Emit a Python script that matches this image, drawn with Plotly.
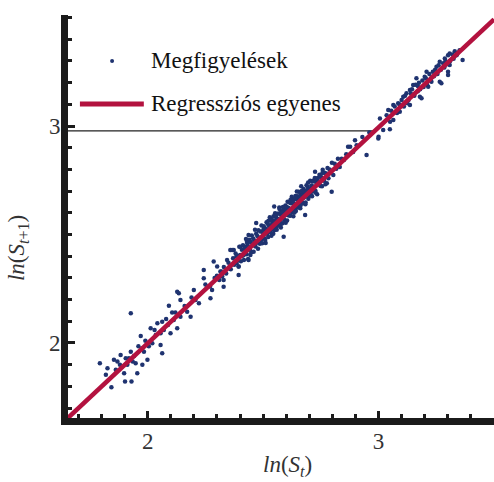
import plotly.graph_objects as go

# Observations: ln(S_t) and ln(S_{t+1}), grouped by range of ln(S_t)
low_x = [1.793, 1.819, 1.843, 1.826, 1.854, 1.862, 1.869, 1.883, 1.890, 1.898,
         1.902, 1.912, 1.919, 1.927, 1.927, 1.930, 1.941, 1.948, 1.955, 1.970,
         1.977, 1.977, 1.984, 1.999, 2.013, 2.020, 2.035, 2.042, 2.056, 2.056,
         2.063, 2.063, 2.088, 2.092, 2.099, 2.106, 2.113, 2.128, 2.135, 2.142,
         2.142, 2.171, 2.186, 2.207, 2.128, 2.200, 2.222, 2.243, 2.243, 2.258,
         2.272, 2.279, 1.880, 1.905, 1.935, 1.960, 1.990, 2.005, 2.030, 2.070,
         2.080, 2.120, 2.160, 2.190]
low_y = [1.906, 1.853, 1.796, 1.883, 1.922, 1.876, 1.914, 1.945, 1.891, 1.860,
         1.822, 1.899, 1.929, 2.137, 1.960, 1.822, 1.940, 1.906, 1.860, 2.032,
         1.976, 1.899, 1.960, 1.922, 2.068, 1.999, 2.037, 2.091, 2.045, 1.991,
         2.098, 1.953, 2.083, 2.171, 2.045, 2.140, 2.106, 2.068, 2.229, 2.198,
         2.121, 2.144, 2.121, 2.198, 2.236, 2.244, 2.183, 2.336, 2.298, 2.259,
         2.206, 2.244, 1.900, 1.930, 1.915, 1.985, 2.010, 1.985, 2.060, 2.060,
         2.110, 2.140, 2.170, 2.210]

mid_x = [2.286, 2.301, 2.315, 2.323, 2.329, 2.344, 2.358, 2.373, 2.394, 2.394,
         2.402, 2.423, 2.430, 2.437, 2.459, 2.445, 2.437, 2.416, 2.329, 2.366,
         2.250, 2.270, 2.300, 2.310, 2.330, 2.340, 2.350, 2.360, 2.370, 2.375,
         2.385, 2.390, 2.290, 2.320, 2.355]
mid_y = [2.375, 2.352, 2.329, 2.306, 2.290, 2.382, 2.429, 2.429, 2.352, 2.313,
         2.444, 2.444, 2.467, 2.498, 2.459, 2.406, 2.383, 2.406, 2.259, 2.429,
         2.270, 2.260, 2.310, 2.290, 2.350, 2.320, 2.370, 2.340, 2.390, 2.360,
         2.400, 2.380, 2.300, 2.330, 2.350]

core_x = [2.381, 2.385, 2.390, 2.394, 2.397, 2.401, 2.404, 2.408, 2.411, 2.413,
          2.417, 2.420, 2.423, 2.426, 2.429, 2.432, 2.435, 2.437, 2.440, 2.443,
          2.446, 2.449, 2.451, 2.454, 2.457, 2.459, 2.462, 2.465, 2.467, 2.470,
          2.473, 2.475, 2.478, 2.480, 2.483, 2.486, 2.488, 2.491, 2.493, 2.496,
          2.498, 2.501, 2.503, 2.506, 2.508, 2.511, 2.513, 2.515, 2.518, 2.520,
          2.522, 2.525, 2.527, 2.529, 2.532, 2.534, 2.536, 2.539, 2.541, 2.543,
          2.545, 2.548, 2.550, 2.552, 2.554, 2.557, 2.559, 2.561, 2.563, 2.566,
          2.568, 2.570, 2.572, 2.575, 2.577, 2.579, 2.581, 2.584, 2.586, 2.588,
          2.590, 2.593, 2.595, 2.597, 2.599, 2.602, 2.604, 2.606, 2.608, 2.611,
          2.613, 2.615, 2.617, 2.620, 2.622, 2.624, 2.626, 2.629, 2.631, 2.633,
          2.635, 2.638, 2.640, 2.642, 2.644, 2.647, 2.649, 2.651, 2.654, 2.656,
          2.658, 2.661, 2.663, 2.665, 2.668, 2.670, 2.673, 2.675, 2.677, 2.680,
          2.683, 2.685, 2.688, 2.690, 2.693, 2.696, 2.698, 2.701, 2.704, 2.707,
          2.709, 2.712, 2.715, 2.718, 2.721, 2.724, 2.727, 2.730, 2.734, 2.737,
          2.740, 2.744, 2.747, 2.751, 2.755, 2.758, 2.762, 2.766, 2.770, 2.774,
          2.779, 2.783, 2.788, 2.793, 2.798, 2.804, 2.810, 2.817, 2.824, 2.832,
          2.840, 2.850]
core_y = [2.412, 2.367, 2.402, 2.353, 2.443, 2.405, 2.377, 2.430, 2.402, 2.451,
          2.382, 2.435, 2.421, 2.479, 2.409, 2.459, 2.387, 2.445, 2.476, 2.430,
          2.465, 2.418, 2.495, 2.449, 2.481, 2.421, 2.472, 2.522, 2.445, 2.503,
          2.462, 2.493, 2.434, 2.520, 2.485, 2.457, 2.514, 2.475, 2.541, 2.460,
          2.511, 2.494, 2.538, 2.481, 2.529, 2.461, 2.519, 2.557, 2.504, 2.549,
          2.489, 2.541, 2.524, 2.580, 2.511, 2.568, 2.494, 2.548, 2.566, 2.531,
          2.584, 2.520, 2.553, 2.598, 2.537, 2.577, 2.522, 2.573, 2.557, 2.597,
          2.544, 2.625, 2.562, 2.592, 2.532, 2.607, 2.582, 2.552, 2.627, 2.573,
          2.613, 2.567, 2.603, 2.634, 2.591, 2.621, 2.565, 2.651, 2.589, 2.622,
          2.612, 2.647, 2.587, 2.644, 2.610, 2.674, 2.603, 2.643, 2.584, 2.663,
          2.640, 2.622, 2.678, 2.608, 2.662, 2.643, 2.676, 2.624, 2.697, 2.646,
          2.667, 2.621, 2.685, 2.723, 2.650, 2.685, 2.644, 2.710, 2.671, 2.700,
          2.640, 2.692, 2.727, 2.676, 2.719, 2.665, 2.710, 2.699, 2.748, 2.685,
          2.726, 2.676, 2.744, 2.721, 2.706, 2.760, 2.701, 2.740, 2.686, 2.760,
          2.733, 2.775, 2.727, 2.765, 2.722, 2.798, 2.751, 2.785, 2.732, 2.781,
          2.807, 2.759, 2.800, 2.784, 2.831, 2.774, 2.826, 2.803, 2.849, 2.811,
          2.849, 2.844]

core2_x = [2.502, 2.509, 2.516, 2.523, 2.530, 2.537, 2.544, 2.549, 2.555, 2.560,
           2.565, 2.571, 2.576, 2.582, 2.587, 2.592, 2.598, 2.603, 2.609, 2.614,
           2.619, 2.625, 2.630, 2.636, 2.641, 2.646, 2.652, 2.657, 2.662, 2.667,
           2.672, 2.678, 2.684, 2.689, 2.695, 2.700, 2.706, 2.713, 2.719, 2.726,
           2.733, 2.741, 2.749, 2.757, 2.764, 2.725, 2.797, 2.682, 2.589, 2.776,
           2.548, 2.470]
core2_y = [2.524, 2.475, 2.524, 2.563, 2.514, 2.563, 2.503, 2.562, 2.588, 2.538,
           2.569, 2.618, 2.546, 2.600, 2.578, 2.628, 2.554, 2.627, 2.611, 2.589,
           2.660, 2.612, 2.646, 2.601, 2.670, 2.698, 2.633, 2.667, 2.634, 2.701,
           2.669, 2.699, 2.647, 2.703, 2.740, 2.679, 2.712, 2.701, 2.749, 2.694,
           2.752, 2.743, 2.724, 2.784, 2.748, 2.789, 2.697, 2.590, 2.490, 2.736,
           2.629, 2.553]

high_x = [2.868, 2.877, 2.898, 2.948, 2.905, 2.860, 2.890, 2.930, 2.960, 2.999,
          3.020, 3.049, 3.006, 3.042, 3.064, 3.085, 3.107, 3.121, 3.136, 3.136,
          3.179, 3.186, 3.164, 3.150, 3.215, 3.229, 3.200, 3.208, 3.265, 3.251,
          3.265, 3.287, 3.301, 3.301, 3.308, 3.049, 3.064, 3.092, 3.351, 3.364,
          3.308, 3.337, 3.272, 3.301, 3.000, 3.050, 3.070, 3.080, 3.100, 3.110,
          3.115, 3.130, 3.140, 3.145, 3.155, 3.160, 3.170, 3.175, 3.180, 3.190,
          3.195, 3.205, 3.210, 3.220, 3.225, 3.235, 3.240, 3.245, 3.255, 3.260,
          3.270, 3.280, 3.285, 3.290, 3.295, 3.310, 3.320, 3.325, 3.330, 3.340,
          3.035, 3.055, 3.090, 3.125, 3.170, 3.230]
high_y = [2.905, 2.905, 2.935, 2.866, 2.912, 2.870, 2.880, 2.950, 2.970, 2.943,
          2.982, 2.985, 3.035, 3.074, 3.097, 3.105, 3.135, 3.151, 3.166, 3.097,
          3.135, 3.128, 3.220, 3.189, 3.181, 3.204, 3.227, 3.250, 3.204, 3.273,
          3.296, 3.312, 3.327, 3.250, 3.281, 3.043, 3.028, 3.066, 3.350, 3.304,
          3.335, 3.327, 3.197, 3.235, 2.951, 3.020, 3.090, 3.060, 3.120, 3.090,
          3.140, 3.120, 3.150, 3.170, 3.140, 3.190, 3.160, 3.200, 3.170, 3.210,
          3.180, 3.220, 3.190, 3.240, 3.210, 3.250, 3.230, 3.260, 3.240, 3.280,
          3.260, 3.290, 3.270, 3.300, 3.285, 3.300, 3.330, 3.310, 3.345, 3.330,
          3.050, 3.070, 3.100, 3.105, 3.185, 3.225]

obs_x = low_x + mid_x + core_x + core2_x + high_x
obs_y = low_y + mid_y + core_y + core2_y + high_y

# Fitted regression line ln(S_{t+1}) = a + b * ln(S_t)
reg_intercept = 0.006
reg_slope = 0.996

# Axis extents and ticks
x_range = [1.655, 3.50]
y_range = [1.654, 3.512]
tick_vals = [2, 3]
ref_level = 2.978  # horizontal guide drawn up to the regression line

navy = "#1f3370"
crimson = "#b3123f"
axis_black = "#1b1b1b"
serif = "Liberation Serif"

reg_x = x_range
reg_y = [reg_intercept + reg_slope * v for v in reg_x]

fig = go.Figure()
fig.add_trace(go.Scatter(
    x=obs_x, y=obs_y, mode="markers",
    marker=dict(color=navy, size=4.5, line=dict(width=0)),
    name="Megfigyelések", showlegend=False, hoverinfo="skip"))
fig.add_trace(go.Scatter(
    x=reg_x, y=reg_y, mode="lines",
    line=dict(color=crimson, width=4.5),
    name="Regressziós egyenes", showlegend=False, hoverinfo="skip"))

# Thin guide at ln(S_{t+1}) = ref_level, from the axis to the fitted line
guide_end = (ref_level - reg_intercept) / reg_slope
fig.add_shape(type="line", xref="x", yref="y",
              x0=x_range[0], x1=guide_end, y0=ref_level, y1=ref_level,
              line=dict(color="#222", width=1.3), layer="below")

# Legend drawn by hand (paper coordinates)
fig.add_shape(type="circle", xref="paper", yref="paper",
              x0=0.0988, x1=0.1082, y0=0.881, y1=0.891,
              fillcolor=navy, line=dict(width=0))
fig.add_shape(type="line", xref="paper", yref="paper",
              x0=0.028, x1=0.178, y0=0.779, y1=0.779,
              line=dict(color=crimson, width=5))
fig.add_annotation(xref="paper", yref="paper", x=0.19, y=0.886,
                   text="Megfigyelések", showarrow=False,
                   xanchor="left", yanchor="middle",
                   font=dict(family=serif, size=23, color="#111"))
fig.add_annotation(xref="paper", yref="paper", x=0.19, y=0.781,
                   text="Regressziós egyenes", showarrow=False,
                   xanchor="left", yanchor="middle",
                   font=dict(family=serif, size=23, color="#111"))

# Axis titles
fig.add_annotation(xref="paper", yref="paper", x=0.516, y=-0.119,
                   text="<i>ln</i>(<i>S</i><sub><i>t</i></sub>)", showarrow=False,
                   xanchor="center", yanchor="middle",
                   font=dict(family=serif, size=23, color="#333"))
fig.add_annotation(xref="paper", yref="paper", x=-0.117, y=0.422,
                   text="<i>ln</i>(<i>S</i><sub><i>t</i>+1</sub>)", showarrow=False,
                   textangle=-90, xanchor="center", yanchor="middle",
                   font=dict(family=serif, size=23, color="#333"))

axis_common = dict(
    showline=True, linewidth=7, linecolor=axis_black, mirror=False,
    showgrid=False, zeroline=False,
    ticks="inside", ticklen=7, tickwidth=3, tickcolor=axis_black,
    tickvals=tick_vals,
    tickfont=dict(family=serif, size=23, color="#333"),
    minor=dict(ticks="inside", ticklen=4, tickwidth=3, tickcolor=axis_black,
               dtick=0.1, tick0=0, showgrid=False),
)

fig.update_xaxes(range=x_range, ticklabelstandoff=-4, **axis_common)
fig.update_yaxes(range=y_range, ticklabelstandoff=-4, **axis_common)

fig.update_layout(
    width=494, height=482,
    margin=dict(l=68, r=0, t=15, b=64),
    plot_bgcolor="white", paper_bgcolor="white",
    showlegend=False,
    font=dict(family=serif),
)

fig.write_html("out.html")
